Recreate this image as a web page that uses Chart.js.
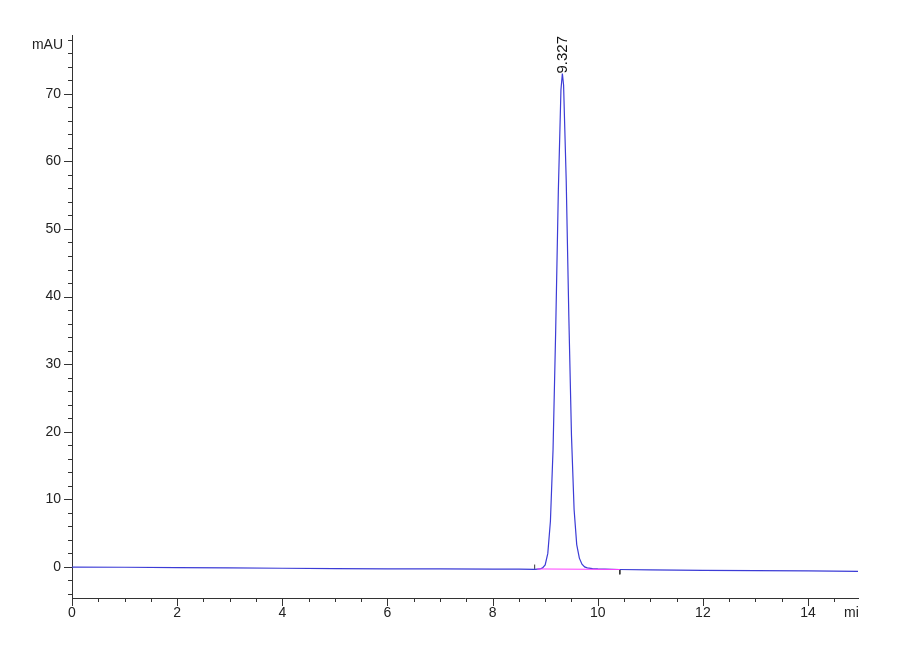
<!DOCTYPE html>
<html>
<head>
<meta charset="utf-8">
<script src="https://cdn.jsdelivr.net/npm/chart.js@4.4.1/dist/chart.umd.min.js"></script>
<style>
  body { margin: 0; background: #fff; }
  canvas { display: block; }
</style>
</head>
<body>
<canvas id="cromatograma" width="900" height="660"></canvas>
<script>
// signal (min, mAU)
const times = [0, 1, 2, 3, 4, 5, 6, 7, 8, 8.5, 8.8, 8.9, 8.95, 9.0, 9.05, 9.1, 9.15, 9.2, 9.25, 9.3, 9.327,
  9.35, 9.4, 9.45, 9.5, 9.55, 9.6, 9.65, 9.7, 9.75, 9.8, 9.9, 10.0, 10.4, 11, 12, 13, 14, 14.95];
const signal = [-0.02, -0.05, -0.1, -0.15, -0.2, -0.25, -0.28, -0.3, -0.32, -0.33, -0.35, -0.3, -0.15,
  0.3, 2.0, 6.8, 17.4, 35.0, 55.5, 70.6, 73.0, 71.3, 57.2, 37.0, 19.5, 8.5, 3.3, 1.3, 0.4, 0.0, -0.15,
  -0.25, -0.3, -0.38, -0.45, -0.5, -0.55, -0.6, -0.65];

// integration baseline and its start / end marks
const baseTimes = [8.85, 10.42];
const baseValues = [-0.3, -0.38];
const startMark = [-0.3, 0.35];
const endMark = [-0.4, -1.1];

const peakTime = 9.327;
const peakHeight = 73.0;
const peakLabel = '9.327';

const xTickLabels = [0, 2, 4, 6, 8, 10, 12, 14];
const yTickLabels = [0, 10, 20, 30, 40, 50, 60, 70];

const fuente = "'Liberation Sans Narrow', 'Liberation Sans', Arial, sans-serif";

const marcas = {
  id: 'marcas',
  afterDraw(chart) {
    const ctx = chart.ctx;
    const x = chart.scales.x, y = chart.scales.y;
    const a = chart.chartArea;
    ctx.save();
    ctx.strokeStyle = '#333';
    ctx.lineWidth = 1;
    // x ticks every 0.5 min, long on labelled ones
    for (let t = 0; t <= 14.9; t += 0.5) {
      const px = Math.round(x.getPixelForValue(t)) + 0.5;
      const largo = xTickLabels.includes(t) ? 8 : 4;
      ctx.beginPath(); ctx.moveTo(px, a.bottom); ctx.lineTo(px, a.bottom + largo); ctx.stroke();
    }
    // y ticks every 2 mAU
    for (let v = -4; v <= 78; v += 2) {
      const py = Math.round(y.getPixelForValue(v)) + 0.5;
      const largo = yTickLabels.includes(v) ? 8 : 4;
      ctx.beginPath(); ctx.moveTo(a.left, py); ctx.lineTo(a.left - largo, py); ctx.stroke();
    }
    // units
    ctx.fillStyle = '#222';
    ctx.font = '14px ' + fuente;
    ctx.textAlign = 'right';
    ctx.textBaseline = 'middle';
    ctx.fillText('mAU', a.left - 9, y.getPixelForValue(77.2));
    ctx.save();
    ctx.beginPath(); ctx.rect(0, 0, a.right + 1, chart.height); ctx.clip();
    ctx.textAlign = 'left';
    ctx.fillText('min', a.right - 14, a.bottom + 15);
    ctx.restore();
    // retention time over the peak
    const px = x.getPixelForValue(peakTime), py = y.getPixelForValue(peakHeight);
    ctx.translate(px, py);
    ctx.rotate(-Math.PI / 2);
    ctx.textAlign = 'left';
    ctx.textBaseline = 'middle';
    ctx.fillStyle = '#111';
    ctx.font = '15px ' + fuente;
    ctx.fillText(peakLabel, 0, 0);
    ctx.restore();
  }
};

new Chart(document.getElementById('cromatograma'), {
  type: 'line',
  data: {
    datasets: [
      {
        label: 'integración',
        data: baseTimes.map((t, i) => ({ x: t, y: baseValues[i] })),
        borderColor: '#ff40ff',
        borderWidth: 1,
        pointRadius: 0
      },
      {
        label: 'señal',
        data: times.map((t, i) => ({ x: t, y: signal[i] })),
        borderColor: '#3c3cd6',
        borderWidth: 1.2,
        pointRadius: 0,
        tension: 0
      },
      {
        label: 'inicio',
        data: startMark.map(v => ({ x: baseTimes[0] - 0.05, y: v })),
        borderColor: '#333',
        borderWidth: 1,
        pointRadius: 0
      },
      {
        label: 'fin',
        data: endMark.map(v => ({ x: baseTimes[1], y: v })),
        borderColor: '#333',
        borderWidth: 1,
        pointRadius: 0
      }
    ]
  },
  options: {
    responsive: false,
    animation: false,
    layout: { padding: { top: 35, right: 42, left: 0, bottom: 0 } },
    plugins: {
      legend: { display: false },
      tooltip: { enabled: false }
    },
    scales: {
      x: {
        type: 'linear',
        min: 0,
        max: 14.95,
        afterBuildTicks: s => { s.ticks = xTickLabels.map(v => ({ value: v })); },
        afterFit: s => { s.height = 62; },
        grid: { display: false, drawTicks: false },
        border: { display: true, color: '#333', width: 1 },
        ticks: { padding: 7, maxRotation: 0, color: '#222', font: { size: 14, family: fuente } }
      },
      y: {
        type: 'linear',
        min: -4.6,
        max: 78.7,
        afterBuildTicks: s => { s.ticks = yTickLabels.map(v => ({ value: v })); },
        afterFit: s => { s.width = 72; },
        grid: { display: false, drawTicks: false },
        border: { display: true, color: '#333', width: 1 },
        ticks: { padding: 11, color: '#222', font: { size: 14, family: fuente } }
      }
    }
  },
  plugins: [marcas]
});
</script>
</body>
</html>
